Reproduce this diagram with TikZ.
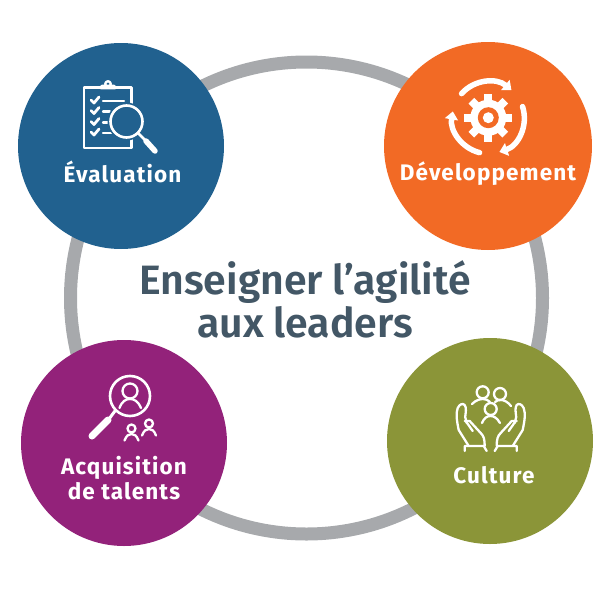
\documentclass[tikz,border=0pt]{standalone}
\usepackage{fontspec}
\setmainfont{Fira Sans}[BoldFont={Fira Sans SemiBold}]
\newfontfamily\themefont{Fira Sans Bold}[LetterSpace=5]
\usetikzlibrary{arrows.meta}
\definecolor{ringgray}{HTML}{A7A9AC}
\definecolor{evalblue}{HTML}{21618F}
\definecolor{devorange}{HTML}{F26A25}
\definecolor{talentpurple}{HTML}{93227A}
\definecolor{cultgreen}{HTML}{8B9538}
\definecolor{titleslate}{HTML}{435766}
\begin{document}
\begin{tikzpicture}[
    x=1pt, y=-1pt,
    disc/.style={circle, inner sep=0pt, minimum size=#1},
    theme/.style={font=\fontsize{22.5}{25.5}\selectfont\themefont, text=white, align=center},
    headline/.style={font=\fontsize{41}{43}\selectfont\bfseries, text=titleslate, align=center},
    icon/.style={draw=white, line width=2.8pt, line cap=round, line join=round},
    iconthin/.style={draw=white, line width=2.3pt, line cap=round, line join=round}
]
    \useasboundingbox (0,0) rectangle (600,600);

    % Ring behind the four circles
    \node[disc=472pt, draw=ringgray, line width=13pt] (ring) at (306.5,298) {};

    % Four theme circles
    \node[disc=206pt, fill=evalblue] (eval) at (121,146) {};
    \node[disc=208pt, fill=devorange] (dev) at (488,146) {};
    \node[disc=206pt, fill=talentpurple] (talent) at (124,443) {};
    \node[disc=206pt, fill=cultgreen] (cult) at (490,441) {};

    % Labels
    \node[headline] (title) at (305,299) {Enseigner l’agilité\\aux leaders};
    \node[theme] (evallabel) at (122.5,172) {Évaluation};
    \node[theme] (devlabel) at (488,174) {Développement};
    \node[theme] (talentlabel) at (124,478) {Acquisition\\de talents};
    \node[theme] (cultlabel) at (494,475) {Culture};

    % Clipboard and magnifier
    \draw[icon] (101,87.5) -- (84,87.5) -- (84,148) -- (131.5,148) -- (131.5,87.5) -- (115,87.5);
    \draw[icon, fill=white] (101,88) -- (102,86) -- (114,86) -- (115,88) -- cycle;
    \draw[iconthin] (108,84) circle (2.8pt);
    \foreach \y/\e in {100/124, 110.5/110, 121.5/108, 132/113}{
        \draw[icon] (91,\y) -- (94,\y+3) -- (99,\y-3);
        \draw[iconthin] (103,\y+1) -- (\e,\y+1);
    }
    \node[disc=38pt, fill=evalblue] (lens) at (126.5,121.5) {};
    \node[disc=32pt, draw=white, line width=2.6pt] (lensrim) at (126.5,121.5) {};
    \draw[icon] (lensrim.-45) -- (146,141);
    \draw[draw=white, line width=5.5pt, line cap=round] (146,141) -- (155,151);

    % Gear with three turning arrows
    \begin{scope}[shift={(488.3,117.7)}, y=1pt]
        \node[disc=36pt, fill=white] (gearbody) at (0,0) {};
        \foreach \a in {0,45,...,315}
            \draw[white, line width=8pt] (\a:16pt) -- (\a:24pt);
        \node[disc=21pt, fill=devorange] (gearhole) at (0,0) {};
        \node[disc=11pt, fill=white] (gearhub) at (0,0) {};
        \foreach \s/\e in {138/50, 18/-72, 256/170}
            \draw[white, line width=5.5pt, line cap=round, -{Triangle[length=8pt, width=13pt]}]
                (\s:36pt) arc[start angle=\s, end angle=\e, radius=36pt];
    \end{scope}

    % Magnifier with people
    \node[disc=40pt, draw=white, line width=2.6pt] (seeker) at (130,396) {};
    \node[disc=15pt, draw=white, line width=2.3pt] (seekerhead) at (130,391) {};
    \draw[iconthin] (119.5,408) .. controls (122,401) and (126,399) .. (130,399)
        .. controls (134,399) and (138,401) .. (141,408);
    \draw[icon, line width=3pt] (seeker.-135) -- (109,419);
    \draw[draw=white, line width=7pt, line cap=round] (108,420) -- (92,436);
    \foreach \x/\y in {131.5/428.5, 149/423.5}{
        \draw[iconthin] (\x,\y) circle (4pt);
        \draw[iconthin] (\x-7,\y+12) .. controls (\x-5,\y+7) and (\x-3,\y+5.5) .. (\x,\y+5.5)
            .. controls (\x+3,\y+5.5) and (\x+5,\y+7) .. (\x+7,\y+12);
    }

    % Hands holding three people
    \foreach \x/\y in {482.7/392.3, 500/394, 490.7/409}
        \draw[iconthin] (\x,\y) circle (6pt);
    \draw[iconthin] (472,404) .. controls (476,400) and (480,399) .. (483,399) .. controls (486,399) and (488,400) .. (490,402);
    \draw[iconthin] (495,402) .. controls (497,400) and (499,400) .. (501,400) .. controls (504,400) and (508,402) .. (511,406);
    \draw[iconthin] (482,423) .. controls (484,418) and (487,416) .. (490.7,416) .. controls (494,416) and (497,418) .. (500,423);
    \foreach \s in {1,-1}{
        \begin{scope}[shift={(490.7,0)}, xscale=\s]
            \draw[iconthin] (-26,451) -- (-26,446) -- (-7,446) -- (-4,451);
            \draw[iconthin] (-22,446) -- (-32,430) .. controls (-34,420) and (-35,414) .. (-33,408)
                .. controls (-31,404) and (-28,403) .. (-26,405) .. controls (-24,408) and (-25,412) .. (-25.5,417)
                -- (-24,423);
            \draw[iconthin] (-26,421) -- (-21,421) -- (-10,433) .. controls (-7,436) and (-6,439) .. (-6,446);
            \draw[iconthin] (-25,421) -- (-18,431);
        \end{scope}
    }
\end{tikzpicture}
\end{document}
